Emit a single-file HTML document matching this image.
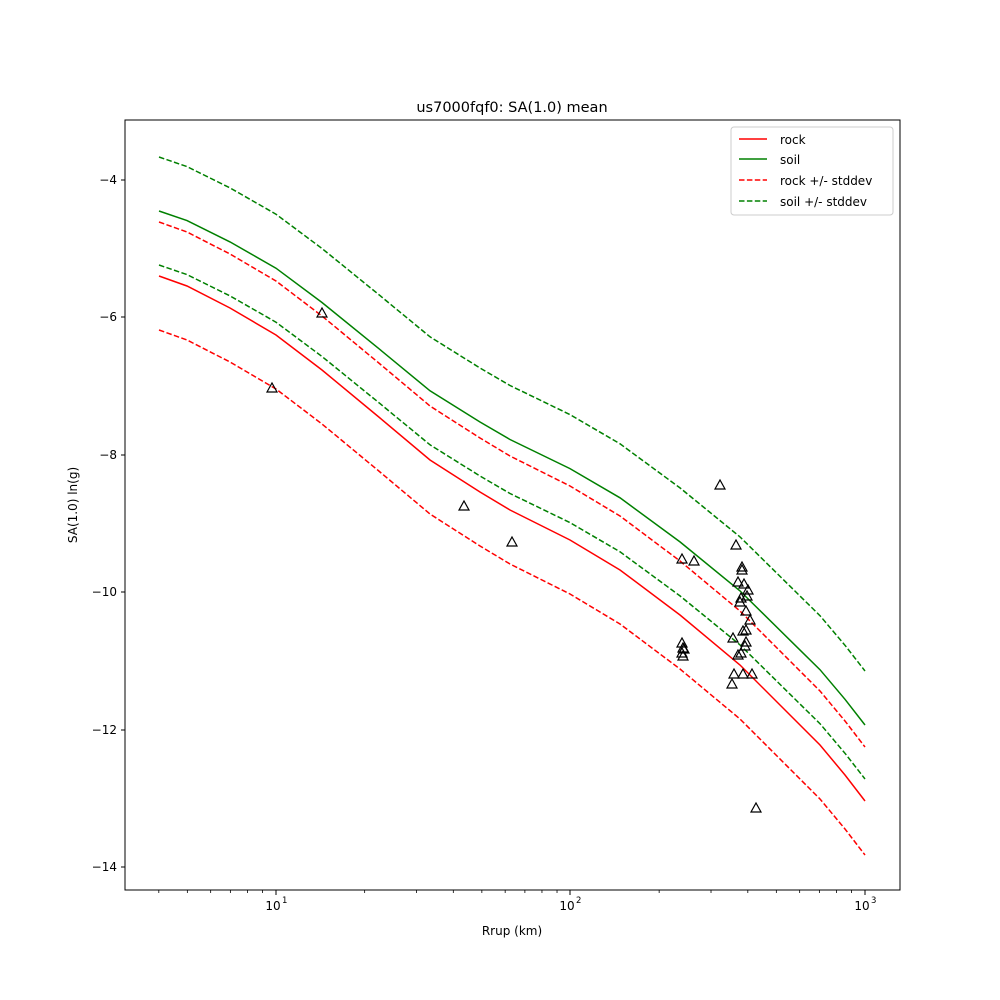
<!DOCTYPE html>
<html><head><meta charset="utf-8"><style>body{margin:0;background:#fff}svg{display:block;font-family:"DejaVu Sans","Liberation Sans",sans-serif}</style></head><body>
<svg id="s" width="1000" height="1000" xmlns="http://www.w3.org/2000/svg">
<rect width="1000" height="1000" fill="#fff"/>
<text x="512" y="112" font-size="14.5" text-anchor="middle">us7000fqf0: SA(1.0) mean</text>
<g id="curves"></g>
<g id="tri" fill="none" stroke="#000" stroke-width="1.2"></g>
<rect x="125" y="120" width="775" height="770" fill="none" stroke="#000" stroke-width="1"/>
<g font-size="12" id="ticks"></g>
<text x="512" y="935" font-size="12" text-anchor="middle">Rrup (km)</text>
<text transform="translate(77,505) rotate(-90)" font-size="12" text-anchor="middle">SA(1.0) ln(g)</text>
<g>
<rect x="731" y="127" width="162" height="88" fill="#fff" stroke="#ccc" rx="3"/>
<line x1="739" y1="139" x2="767" y2="139" stroke="red" stroke-width="1.5"/><text x="780" y="144" font-size="12">rock</text>
<line x1="739" y1="159" x2="767" y2="159" stroke="green" stroke-width="1.5"/><text x="780" y="164" font-size="12">soil</text>
<line x1="739" y1="180" x2="767" y2="180" stroke="red" stroke-width="1.5" stroke-dasharray="5.5,2.4"/><text x="780" y="185" font-size="12">rock +/- stddev</text>
<line x1="739" y1="201" x2="767" y2="201" stroke="green" stroke-width="1.5" stroke-dasharray="5.5,2.4"/><text x="780" y="206" font-size="12">soil +/- stddev</text>
</g>
</svg>
<script>
var NS="http://www.w3.org/2000/svg";
function el(t,a,p){var e=document.createElementNS(NS,t);for(var k in a)e.setAttribute(k,a[k]);p.appendChild(e);return e;}
var rock=[[159,276],[187,286],[230,308],[276,335],[322,370],[380,418],[430,460],[480,492],[510,510],[570,540],[620,570],[680,615],[740,665],[790,715],[820,745],[845,775],[865,801]];
function off(x){return 65+(x-159)/706*11;}
function pts(d){return rock.map(function(p){return p[0]+","+(p[1]-(d.s?off(p[0]):0)+d.o).toFixed(1)}).join(" ");}
var c=document.getElementById("curves");
[[{s:0,o:0},"red",0],[{s:1,o:0},"green",0],[{s:0,o:-54},"red",1],[{s:0,o:54},"red",1],[{s:1,o:-54},"green",1],[{s:1,o:54},"green",1]].forEach(function(a){
var o={points:pts(a[0]),fill:"none",stroke:a[1],"stroke-width":1.5};if(a[2])o["stroke-dasharray"]="5.5,2.4";el("polyline",o,c);});
var T=[[322,313],[272,388],[464,506],[512,542],[682,559],[694,561],[720,485],[736,545],[742,567],[742,570],[738,582],[744,584],[741,598],[740,602],[748,590],[747,596],[746,611],[750,620],[746,630],[743,631],[746,642],[745,646],[738,655],[733,638],[741,653],[734,674],[743,674],[752,674],[732,684],[756,808],[682,643],[683,648],[682,653],[684,649],[683,656]];
var g=document.getElementById("tri");
T.forEach(function(p){el("polygon",{points:(p[0]-5)+","+(p[1]+4)+" "+(p[0]+5)+","+(p[1]+4)+" "+p[0]+","+(p[1]-5)},g);});
var tk=document.getElementById("ticks");
[[-4,180],[-6,317],[-8,455],[-10,592],[-12,730],[-14,867]].forEach(function(t){
el("line",{x1:121,x2:125,y1:t[1],y2:t[1],stroke:"#000"},tk);
var tx=el("text",{x:117,y:t[1]+4,"text-anchor":"end"},tk);tx.textContent="\u2212"+(-t[0]);});
[[276,"1"],[570,"2"],[865,"3"]].forEach(function(t){
el("line",{x1:t[0],x2:t[0],y1:890,y2:895,stroke:"#000"},tk);
var tx=el("text",{x:t[0]-3,y:910,"text-anchor":"middle"},tk);tx.textContent="10";
var sp=el("text",{x:t[0]+6,y:903,"font-size":"8.5"},tk);sp.textContent=t[1];});
for(var d=0;d<4;d++)for(var m=2;m<10;m++){var x=276+(d-1)*294.5+Math.log10(m)*294.5;if(x>125&&x<900)el("line",{x1:x,x2:x,y1:890,y2:893,stroke:"#000","stroke-width":0.8},tk);}
</script>
</body></html>
